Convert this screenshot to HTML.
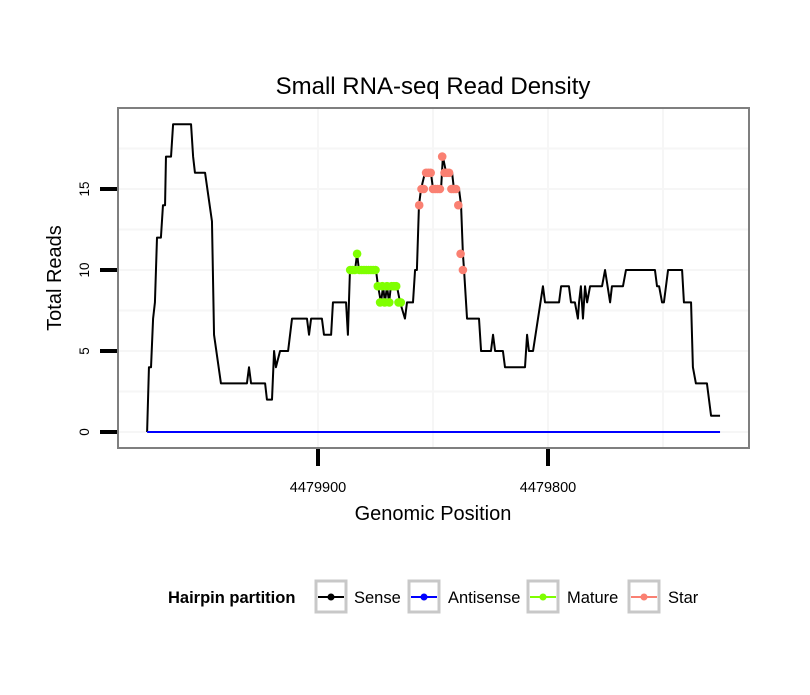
<!DOCTYPE html>
<html><head><meta charset="utf-8"><style>
body{margin:0;background:#fff;}
svg text{font-family:"Liberation Sans",sans-serif;}
</style></head><body>
<svg id="chart" width="810" height="690" xmlns="http://www.w3.org/2000/svg">
<rect width="810" height="690" fill="#fff"/>
<text x="433" y="94" font-size="24" text-anchor="middle">Small RNA-seq Read Density</text>
<g id="grid"></g>
<g id="series"></g>
<rect x="118" y="108" width="631" height="340" fill="none" stroke="#7f7f7f" stroke-width="2"/>
<g id="axes"></g>
<text x="433" y="520" font-size="20" text-anchor="middle">Genomic Position</text>
<text transform="translate(61,278) rotate(-90)" font-size="20" text-anchor="middle">Total Reads</text>
<g>
<text x="168" y="603" font-size="16.5" font-weight="bold">Hairpin partition</text>
<g>
<rect x="316" y="581" width="30" height="31" fill="#fff" stroke="#c8c8c8" stroke-width="3"/>
<line x1="318" y1="597" x2="344" y2="597" stroke="#000" stroke-width="2"/><circle cx="331" cy="597" r="3.5" fill="#000"/>
<text x="354" y="603" font-size="16.5">Sense</text></g>
<g>
<rect x="409" y="581" width="30" height="31" fill="#fff" stroke="#c8c8c8" stroke-width="3"/>
<line x1="411" y1="597" x2="437" y2="597" stroke="#0000ff" stroke-width="2"/><circle cx="424" cy="597" r="3.5" fill="#0000ff"/>
<text x="448" y="603" font-size="16.5">Antisense</text></g>
<g>
<rect x="528" y="581" width="30" height="31" fill="#fff" stroke="#c8c8c8" stroke-width="3"/>
<line x1="530" y1="597" x2="556" y2="597" stroke="#7fff00" stroke-width="2"/><circle cx="543" cy="597" r="3.5" fill="#7fff00"/>
<text x="567" y="603" font-size="16.5">Mature</text></g>
<g>
<rect x="629" y="581" width="30" height="31" fill="#fff" stroke="#c8c8c8" stroke-width="3"/>
<line x1="631" y1="597" x2="657" y2="597" stroke="#fa8072" stroke-width="2"/><circle cx="644" cy="597" r="3.5" fill="#fa8072"/>
<text x="668" y="603" font-size="16.5">Star</text></g>
</g>
</svg>
<script>
const basePos = 4479900;
const senseOffsets = [74.3,73.5,72.6,71.7,70.9,70.0,68.3,67.4,66.5,66.1,63.9,63.0,55.2,54.3,53.5,49.1,46.1,45.2,42.2,30.9,30.0,29.1,23.0,22.2,20.0,19.1,18.3,16.5,13.0,11.3,4.8,3.9,3.0,-1.7,-2.6,-5.7,-6.5,-12.2,-13.0,-13.9,-16.1,-17.0,-17.8,-25.2,-26.1,-27.4,-28.3,-29.1,-30.0,-30.9,-31.7,-34.3,-35.7,-37.8,-38.7,-41.3,-42.2,-43.0,-43.9,-44.8,-46.5,-49.1,-50.0,-53.5,-54.3,-55.7,-58.3,-59.1,-61.3,-62.2,-63.0,-63.5,-64.8,-70.0,-70.9,-75.2,-76.1,-77.0,-80.4,-81.3,-90.0,-90.9,-91.7,-93.5,-97.8,-98.7,-104.8,-105.7,-109.1,-110.0,-111.7,-113.0,-113.5,-114.3,-115.2,-116.1,-117.0,-118.3,-123.5,-124.8,-127.0,-127.8,-132.6,-133.9,-146.5,-147.4,-148.3,-149.6,-150.4,-152.2,-158.3,-159.1,-162.2,-163.0,-164.3,-169.1,-170.9,-174.8];
const senseValues = [0,4,4,7,8,12,12,14,14,17,17,19,19,17,16,16,13,6,3,3,4,3,3,2,2,5,4,5,5,7,7,6,7,7,6,6,8,8,6,10,10,11,10,10,9,8,9,8,9,8,9,9,8,7,8,8,10,10,14,15,16,16,15,15,17,16,16,15,15,14,11,10,7,7,5,5,6,5,5,4,4,6,5,5,9,8,8,9,9,8,8,7,8,9,7,9,8,9,9,10,8,9,9,10,10,9,9,8,8,10,10,8,8,4,3,3,1,1];
const antisenseOffsets = [74.3,-174.8];
const antisenseValues = [0,0];
const matureOffsets = [-14,-15,-16,-17,-18,-19,-20,-21,-22,-23,-24,-25,-26,-27,-28,-29,-30,-31,-32,-33,-34,-35,-36];
const matureValues = [10,10,10,11,10,10,10,10,10,10,10,10,9,8,9,8,9,8,9,9,9,8,8];
const starOffsets = [-44,-45,-46,-47,-48,-49,-50,-51,-52,-53,-54,-55,-56,-57,-58,-59,-60,-61,-62,-63];
const starValues = [14,15,15,16,16,16,15,15,15,15,17,16,16,16,15,15,15,14,11,10];
const yTicks = [0,5,10,15];
const xTicks = [4479900,4479800];
const xMinor = [4479850,4479750];
const yMinor = [2.5,7.5,12.5,17.5];

const NS="http://www.w3.org/2000/svg";
function xs(p){return 318+(4479900-p)*2.3;}
function ys(v){return 432-v*16.2;}
function mk(tag,attrs,parent){const e=document.createElementNS(NS,tag);for(const k in attrs)e.setAttribute(k,attrs[k]);parent.appendChild(e);return e;}
const grid=document.getElementById('grid'),ser=document.getElementById('series'),axes=document.getElementById('axes');
yMinor.concat(yTicks).forEach(v=>{const l=mk('line',{x1:119,x2:748,y1:ys(v),y2:ys(v),stroke:'#f6f6f6','stroke-width':2},grid);

});
xMinor.concat(xTicks).forEach(p=>{const l=mk('line',{x1:xs(p),x2:xs(p),y1:109,y2:447,stroke:'#f6f6f6','stroke-width':2},grid);

});
function line(offs,vals,color,name){const pts=offs.map((o,i)=>xs(basePos+o)+','+ys(vals[i])).join(' ');
const l=mk('polyline',{points:pts,fill:'none',stroke:color,'stroke-width':2,'stroke-linejoin':'round'},ser);

}
function dots(offs,vals,color,name){offs.forEach((o,i)=>{const c=mk('circle',{cx:xs(basePos+o),cy:ys(vals[i]),r:4.3,fill:color},ser);

});}
line(senseOffsets,senseValues,'#000','sense-line');
line(antisenseOffsets,antisenseValues,'#0000ff','antisense-line');
dots(matureOffsets,matureValues,'#7fff00','mature-point');
dots(starOffsets,starValues,'#fa8072','star-point');
yTicks.forEach(v=>{const t=mk('line',{x1:100,x2:117,y1:ys(v),y2:ys(v),stroke:'#000','stroke-width':4},axes);


const tx=mk('text',{transform:'translate('+89+','+ys(v)+') rotate(-90)','font-size':13.5,'text-anchor':'middle'},axes);tx.textContent=v;

});
xTicks.forEach(p=>{const t=mk('line',{x1:xs(p),x2:xs(p),y1:449,y2:466,stroke:'#000','stroke-width':4},axes);


const tx=mk('text',{x:xs(p),y:492,'font-size':14.5,'text-anchor':'middle'},axes);tx.textContent=p;

});
</script>
</body></html>
